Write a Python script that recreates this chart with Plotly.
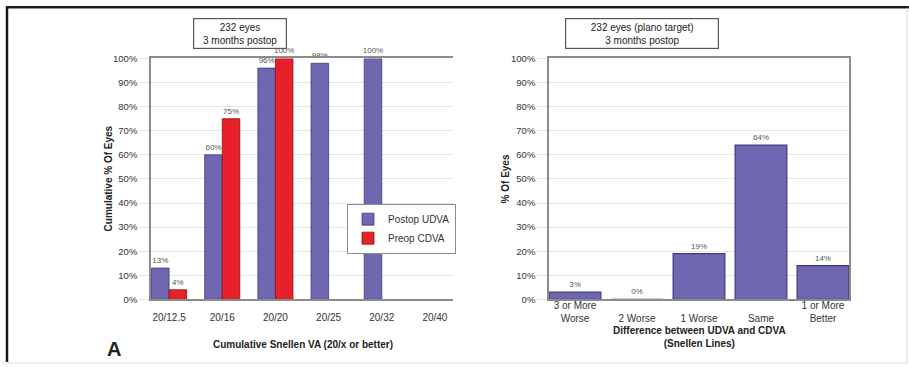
import plotly.graph_objects as go

# Cumulative Snellen visual acuity (left panel)
snellen_cats = ["20/12.5", "20/16", "20/20", "20/25", "20/32", "20/40"]
postop_udva = [13, 60, 96, 98, 100, None]
preop_cdva = [4, 75, 100, None, None, None]

# Difference between UDVA and CDVA in Snellen lines (right panel)
diff_cats = ["3 or More Worse", "2 Worse", "1 Worse", "Same", "1 or More Better"]
diff_ticktext = ["3 or More<br>Worse", "<br>2 Worse", "<br>1 Worse", "<br>Same", "1 or More<br>Better"]
diff_pct = [3, 0, 19, 64, 14]

y_ticks = list(range(0, 101, 10))
y_ticktext = [f"{v}%" for v in y_ticks]

W, H = 909, 367
FONT = "Liberation Sans, Arial, Helvetica, sans-serif"
PURPLE = "#6f68b0"
PURPLE_EDGE = "#3e3a80"
RED = "#e8202a"
RED_EDGE = "#8a1015"
GRID = "#e6e6e6"
AXIS = "#8c8c8c"
TXT = "#333333"

# page layout is laid out on a slightly taller canvas than the drawn one
Y_OFF, Y_SCALE = 5.3, 0.9688


def px_x(v):
    return v / W


def px_y(v):
    return (H - (v - Y_OFF) / Y_SCALE) / H


def pct_labels(values):
    return ["" if v is None else f"{v}%" for v in values]


fig = go.Figure()

label_font = dict(size=8, color="#555555", family=FONT)

fig.add_trace(go.Bar(
    x=snellen_cats, y=postop_udva, name="Postop UDVA",
    marker=dict(color=PURPLE, line=dict(color=PURPLE_EDGE, width=0.8)),
    width=0.33, offset=-0.33,
    text=pct_labels(postop_udva), texttemplate="%{text}",
    textposition="outside", cliponaxis=False,
    constraintext="none", textfont=label_font, xaxis="x", yaxis="y",
))
fig.add_trace(go.Bar(
    x=snellen_cats, y=preop_cdva, name="Preop CDVA",
    marker=dict(color=RED, line=dict(color=RED_EDGE, width=0.8)),
    width=0.33, offset=0.0,
    text=pct_labels(preop_cdva), texttemplate="%{text}",
    textposition="outside", cliponaxis=False,
    constraintext="none", textfont=label_font, xaxis="x", yaxis="y",
))
fig.add_trace(go.Bar(
    x=diff_cats, y=diff_pct, name="Difference",
    marker=dict(color=PURPLE, line=dict(color=PURPLE_EDGE, width=1.2)),
    width=0.835, offset=-0.4175, showlegend=False,
    text=pct_labels(diff_pct), texttemplate="%{text}",
    textposition="outside", cliponaxis=False,
    constraintext="none", textfont=label_font, xaxis="x2", yaxis="y2",
))

plot_top, plot_bottom = 57.7, 298.3
y_dom = [px_y(plot_bottom), px_y(plot_top)]

yaxis_common = dict(
    range=[0, 100], tickvals=y_ticks, ticktext=y_ticktext,
    showgrid=True, gridcolor=GRID, gridwidth=1,
    ticks="outside", ticklen=10, tickcolor=GRID,
    showline=True, linecolor=AXIS, linewidth=1.5,
    zeroline=False, tickfont=dict(size=9.5, color=TXT, family=FONT),
    domain=y_dom, fixedrange=True,
)

fig.update_layout(
    width=W, height=H,
    margin=dict(l=0, r=0, t=0, b=0),
    paper_bgcolor="white", plot_bgcolor="white",
    font=dict(family=FONT, color=TXT),
    barmode="overlay",
    xaxis=dict(
        domain=[px_x(151), px_x(453)], type="category",
        categoryorder="array", categoryarray=snellen_cats,
        range=[-0.34, 5.34],
        showline=True, linecolor=AXIS, linewidth=1.5, mirror=True,
        ticks="outside", ticklen=8, tickcolor="rgba(0,0,0,0)",
        tickfont=dict(size=10, color=TXT, family=FONT),
        showgrid=False, zeroline=False, anchor="y",
    ),
    yaxis=dict(anchor="x", **yaxis_common),
    xaxis2=dict(
        domain=[px_x(549), px_x(849)], type="category",
        categoryorder="array", categoryarray=diff_cats,
        tickvals=diff_cats, ticktext=diff_ticktext,
        range=[-0.42, 4.42],
        showline=True, linecolor=AXIS, linewidth=1.5, mirror=True,
        ticks="", ticklabelstandoff=-4,
        tickfont=dict(size=10, color=TXT, family=FONT),
        showgrid=False, zeroline=False, anchor="y2",
    ),
    yaxis2=dict(anchor="x2", mirror=True, **yaxis_common),
    legend=dict(
        x=px_x(347), y=px_y(202.7), xanchor="left", yanchor="top",
        bgcolor="white", bordercolor="#8c8c8c", borderwidth=1,
        font=dict(size=10, color=TXT, family=FONT),
        tracegroupgap=0, itemwidth=30,
    ),
)


def note(text, x, y, size=10, **kw):
    return dict(text=text, x=px_x(x), y=px_y(y), xref="paper", yref="paper",
                xanchor="center", yanchor="middle", showarrow=False,
                font=dict(size=size, color="#222222", family=FONT), **kw)


annotations = [
    # Text boxes above each panel
    note("232 eyes<br>3 months postop", 240.4, 33,
         bgcolor="white", bordercolor="#555555", borderwidth=1.2,
         borderpad=1, width=90, height=27, align="center"),
    note("232 eyes (plano target)<br>3 months postop", 641.5, 33,
         bgcolor="white", bordercolor="#555555", borderwidth=1.2,
         borderpad=1, width=150, height=27, align="center"),
    # Axis titles
    note("<b>Cumulative % Of Eyes</b>", 108.5, 178, textangle=-90),
    note("<b>Cumulative Snellen VA (20/x or better)</b>", 303, 343),
    note("<b>% Of Eyes</b>", 505.5, 178, textangle=-90),
    note("<b>Difference between UDVA and CDVA<br>(Snellen Lines)</b>", 699, 336),
    # Panel letter
    note("<b>A</b>", 114, 348, size=20),
]
fig.update_layout(annotations=annotations)

# Outer frame of the figure
fig.update_layout(shapes=[
    dict(type="line", xref="paper", yref="paper", x0=px_x(6), x1=1, y0=px_y(6.5), y1=px_y(6.5),
         line=dict(color="#1a1a1a", width=2.5)),
    dict(type="line", xref="paper", yref="paper", x0=px_x(7), x1=px_x(7), y0=0, y1=px_y(5.5),
         line=dict(color="#1a1a1a", width=2.5)),
    dict(type="line", xref="paper", yref="paper", x0=px_x(907), x1=px_x(907), y0=px_y(362), y1=px_y(7),
         line=dict(color="#dddddd", width=1)),
    dict(type="line", xref="paper", yref="paper", x0=px_x(8), x1=px_x(907), y0=px_y(362), y1=px_y(362),
         line=dict(color="#dddddd", width=1)),
])

fig.write_html("out.html")
